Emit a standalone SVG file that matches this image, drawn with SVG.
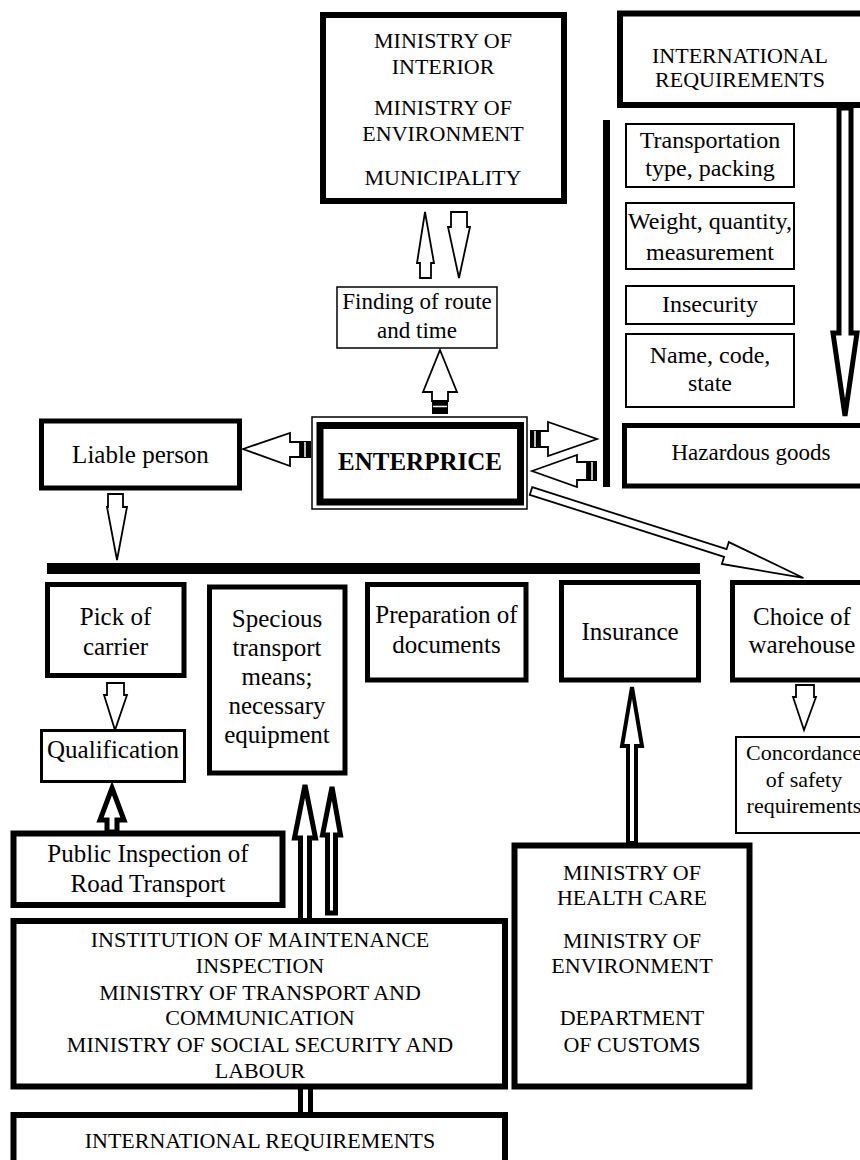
<svg xmlns="http://www.w3.org/2000/svg" width="860" height="1160" viewBox="0 0 860 1160">
<style>
text{font-family:"Liberation Serif","Times New Roman",serif;fill:#000;text-anchor:middle}
.l{font-size:25px}
.m{font-size:24px}
.f{font-size:23px}
.s{font-size:22px}
.b{font-size:25px;font-weight:bold}
.thick{fill:#fff;stroke:#000;stroke-width:6}
.med{fill:#fff;stroke:#000;stroke-width:5}
.thin{fill:#fff;stroke:#000;stroke-width:2}
.hair{fill:#fff;stroke:#000;stroke-width:1.5}
.ah{fill:#fff;stroke:#000;stroke-width:1.8;stroke-linejoin:miter}
.fat{fill:#fff;stroke:#000;stroke-width:5;stroke-linejoin:miter}
.fat4{fill:#fff;stroke:#000;stroke-width:4;stroke-linejoin:miter}
</style>
<rect width="860" height="1160" fill="#fff"/>

<g id="connectors">
  <polygon class="ah" points="425,212 434,263 431,263 431,278 420,278 420,263 417,263"/>
  <polygon class="ah" points="451,212 467,212 467,227 470,227 459,278 448,227 451,227"/>
  <polygon class="ah" points="440,350 457,392 448,392 448,401 432,401 432,392 423,392"/>
  <rect x="432" y="400" width="16" height="14" fill="#000"/>
  <line x1="433" y1="406.5" x2="447" y2="406.5" stroke="#fff" stroke-width="1.5"/>
  <polygon class="ah" points="243,449 290,433 290,442 300,442 300,457 290,457 290,466"/>
  <rect x="300" y="441" width="11" height="17" fill="#000"/>
  <line x1="305" y1="442" x2="305" y2="457" stroke="#fff" stroke-width="1.5"/>
  <polygon class="ah" points="540,431 548,431 548,422 597,439 548,456 548,447 540,447"/>
  <rect x="530" y="430" width="10" height="18" fill="#000"/>
  <line x1="535" y1="431" x2="535" y2="447" stroke="#fff" stroke-width="1.5"/>
  <polygon class="ah" points="532,471 577,455 577,462 587,462 587,480 577,480 577,487"/>
  <rect x="587" y="461" width="10" height="20" fill="#000"/>
  <line x1="592" y1="462" x2="592" y2="480" stroke="#fff" stroke-width="1.5"/>
  <polygon class="ah" transform="translate(531,491) rotate(17.7)" points="0,-4 204,-4 204,-11.5 286,0 204,11.5 204,4 0,4"/>
  <polygon class="ah" points="108,494 123,494 123,507 127,507 117,560 107,507 108,507"/>
  <polygon class="ah" points="107,683 124,683 124,695 127,695 115,730 104,695 107,695"/>
  <polygon class="ah" points="796,685 814,685 814,697 816,697 804,730 793,697 796,697"/>
  <polygon class="fat" points="839,108 851,108 851,333 857,333 845,416 833,333 839,333"/>
  <polygon class="fat" points="112,788 124,820 117,820 117,832 107,832 107,820 100,820"/>
  <polygon class="fat" points="305,785 315.5,838 309.5,838 309.5,922 300.5,922 300.5,838 294.5,838"/>
  <polygon class="fat" points="332,787 340.5,835 335.5,835 335.5,913 327.5,913 327.5,835 322.5,835"/>
  <polygon class="fat4" points="632,687 642,746 636,746 636,843 628,843 628,746 622,746"/>
  <rect x="298" y="1088" width="5" height="26" fill="#000"/>
  <rect x="308" y="1088" width="5" height="26" fill="#000"/>
  <rect x="47" y="563" width="653" height="11" fill="#000"/>
  <rect x="603" y="120" width="7" height="367" fill="#000"/>
</g>

<g id="ministry-top">
  <rect class="thick" x="323" y="15" width="241" height="186"/>
  <text class="s" x="443" y="48">MINISTRY OF</text>
  <text class="s" x="443" y="74">INTERIOR</text>
  <text class="s" x="443" y="115">MINISTRY OF</text>
  <text class="s" x="443" y="141">ENVIRONMENT</text>
  <text class="s" x="443" y="185">MUNICIPALITY</text>
</g>

<g id="intl-top">
  <rect class="thick" x="620" y="13.5" width="250" height="91.5"/>
  <text class="s" x="740" y="63">INTERNATIONAL</text>
  <text class="s" x="740" y="87">REQUIREMENTS</text>
</g>

<g id="transportation">
  <rect class="thin" x="626" y="124" width="168" height="63"/>
  <text class="m" x="710" y="148">Transportation</text>
  <text class="m" x="710" y="176">type, packing</text>
</g>
<g id="weight">
  <rect class="thin" x="626" y="203" width="168" height="66"/>
  <text class="m" x="710" y="229">Weight, quantity,</text>
  <text class="m" x="710" y="260">measurement</text>
</g>
<g id="insecurity">
  <rect class="thin" x="626" y="286" width="168" height="38"/>
  <text class="m" x="710" y="312">Insecurity</text>
</g>
<g id="name-code">
  <rect class="thin" x="626" y="334" width="168" height="73"/>
  <text class="m" x="710" y="363">Name, code,</text>
  <text class="m" x="710" y="391">state</text>
</g>
<g id="hazardous">
  <rect class="med" x="624.5" y="425.5" width="250" height="60.5"/>
  <text class="f" x="751" y="460">Hazardous goods</text>
</g>

<g id="finding">
  <rect class="hair" x="337" y="287" width="160" height="61"/>
  <text class="f" x="417" y="309">Finding of route</text>
  <text class="f" x="417" y="338">and time</text>
</g>

<g id="enterprice">
  <rect class="hair" x="312" y="417" width="215" height="92"/>
  <rect fill="#fff" stroke="#000" stroke-width="7" x="320" y="425.5" width="200.5" height="76.5"/>
  <text class="b" x="420" y="470">ENTERPRICE</text>
</g>

<g id="liable">
  <rect class="med" x="41.5" y="421" width="198" height="67"/>
  <text class="l" x="140.5" y="463">Liable person</text>
</g>

<g id="pick">
  <rect class="med" x="47.5" y="584.5" width="136.5" height="91"/>
  <text class="l" x="115.5" y="625">Pick of</text>
  <text class="l" x="115.5" y="655">carrier</text>
</g>
<g id="specious">
  <rect class="med" x="209.5" y="587" width="135.5" height="186"/>
  <text class="l" x="277" y="627">Specious</text>
  <text class="l" x="277" y="656">transport</text>
  <text class="l" x="277" y="685">means;</text>
  <text class="l" x="277" y="714">necessary</text>
  <text class="l" x="277" y="743">equipment</text>
</g>
<g id="preparation">
  <rect class="med" x="367.5" y="584.5" width="158.5" height="95.5"/>
  <text class="l" x="446.5" y="623">Preparation of</text>
  <text class="l" x="446.5" y="653">documents</text>
</g>
<g id="insurance">
  <rect class="med" x="561.5" y="582.5" width="137" height="97.5"/>
  <text class="l" x="630" y="640">Insurance</text>
</g>
<g id="choice">
  <rect class="med" x="732.5" y="582.5" width="150" height="97.5"/>
  <text class="l" x="802" y="625">Choice of</text>
  <text class="l" x="802" y="653">warehouse</text>
</g>
<g id="concordance">
  <rect class="thin" x="736" y="737" width="150" height="96"/>
  <text class="s" x="804" y="760">Concordance</text>
  <text class="s" x="804" y="787">of safety</text>
  <text class="s" x="804" y="813">requirements</text>
</g>
<g id="qualification">
  <rect fill="#fff" stroke="#000" stroke-width="3" x="41.5" y="730.5" width="143" height="51"/>
  <text class="l" x="113" y="758">Qualification</text>
</g>
<g id="public-inspection">
  <rect class="thick" x="13.5" y="833.5" width="269" height="71.5"/>
  <text class="l" x="148" y="862">Public Inspection of</text>
  <text class="l" x="148" y="892">Road Transport</text>
</g>
<g id="institution">
  <rect class="thick" x="13.5" y="921" width="491.5" height="165.5"/>
  <text class="s" x="260" y="947">INSTITUTION OF MAINTENANCE</text>
  <text class="s" x="260" y="973">INSPECTION</text>
  <text class="s" x="260" y="1000">MINISTRY OF TRANSPORT AND</text>
  <text class="s" x="260" y="1025">COMMUNICATION</text>
  <text class="s" x="260" y="1052">MINISTRY OF SOCIAL SECURITY AND</text>
  <text class="s" x="260" y="1078">LABOUR</text>
</g>
<g id="intl-bottom">
  <rect class="thick" x="13.5" y="1115" width="491.5" height="60"/>
  <text class="s" x="260" y="1148">INTERNATIONAL REQUIREMENTS</text>
</g>
<g id="ministry-health">
  <rect class="thick" x="514.5" y="845.5" width="235" height="241"/>
  <text class="s" x="632" y="880">MINISTRY OF</text>
  <text class="s" x="632" y="905">HEALTH CARE</text>
  <text class="s" x="632" y="948">MINISTRY OF</text>
  <text class="s" x="632" y="973">ENVIRONMENT</text>
  <text class="s" x="632" y="1025">DEPARTMENT</text>
  <text class="s" x="632" y="1052">OF CUSTOMS</text>
</g>
</svg>
